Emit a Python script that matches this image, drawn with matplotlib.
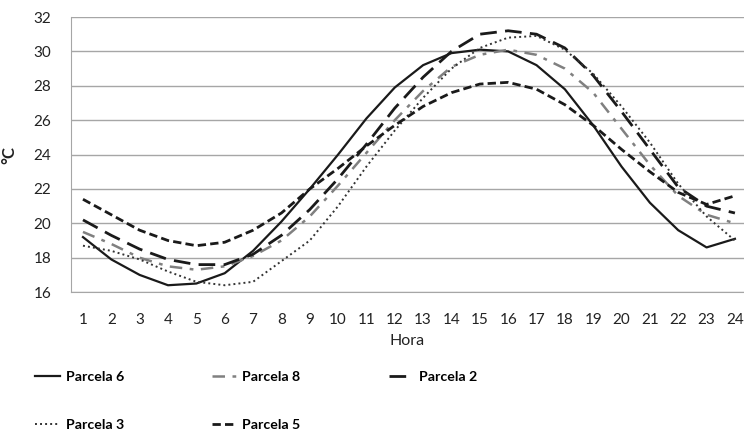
import matplotlib.pyplot as plt

plt.rcParams['font.family'] = ['Lato', 'DejaVu Sans']

hours = list(range(1, 25))

parcela6 = [19.2, 17.9, 17.0, 16.4, 16.5, 17.1, 18.4, 20.1, 22.0, 24.0, 26.1, 27.9,
            29.2, 29.9, 30.1, 30.0, 29.2, 27.8, 25.7, 23.3, 21.2, 19.6, 18.6, 19.1]
parcela8 = [19.5, 18.8, 18.0, 17.5, 17.3, 17.5, 18.1, 19.0, 20.4, 22.2, 24.1, 26.0,
            27.7, 29.1, 29.8, 30.1, 29.8, 29.0, 27.6, 25.5, 23.4, 21.6, 20.5, 20.0]
parcela2 = [20.2, 19.3, 18.5, 17.9, 17.6, 17.6, 18.2, 19.3, 20.8, 22.6, 24.6, 26.7,
            28.5, 30.0, 31.0, 31.2, 31.0, 30.2, 28.6, 26.5, 24.3, 22.1, 21.0, 20.6]
parcela3 = [18.7, 18.4, 17.9, 17.2, 16.6, 16.4, 16.6, 17.8, 19.0, 21.0, 23.3, 25.4,
            27.3, 29.0, 30.2, 30.8, 30.9, 30.1, 28.7, 26.8, 24.7, 22.3, 20.4, 19.0]
parcela5 = [21.4, 20.5, 19.6, 19.0, 18.7, 18.9, 19.6, 20.6, 22.0, 23.2, 24.5, 25.7,
            26.8, 27.6, 28.1, 28.2, 27.8, 26.9, 25.7, 24.3, 23.0, 21.8, 21.1, 21.6]

yticks = [16, 18, 20, 22, 24, 26, 28, 30, 32]

fig = plt.figure(figsize=(7.44, 4.36), dpi=100)
ax = fig.add_axes([0.0954, 0.330, 0.9046, 0.631])

l6, = ax.plot(hours, parcela6, color='#1a1a1a', lw=1.6, ls='-')
l8, = ax.plot(hours, parcela8, color='#808080', lw=1.8, dashes=(5, 3, 1.5, 3))
l2, = ax.plot(hours, parcela2, color='#1a1a1a', lw=2.0, dashes=(6, 3))
l3, = ax.plot(hours, parcela3, color='#333333', lw=1.4, dashes=(1, 1.6))
l5, = ax.plot(hours, parcela5, color='#1a1a1a', lw=2.0, dashes=(3, 1.5))

ax.set_xlim(0.577, 24.32)
ax.set_ylim(16, 32)
ax.set_xticks(hours)
ax.set_yticks(yticks)
ax.grid(axis='y', color='#a6a6a6', lw=1)
ax.set_axisbelow(True)
ax.tick_params(axis='both', length=0, labelsize=11, colors='#222222')
ax.tick_params(axis='y', pad=14)
ax.tick_params(axis='x', pad=15)
for s in ['top', 'right']:
    ax.spines[s].set_visible(False)
for s in ['left', 'bottom']:
    ax.spines[s].set_color('#a6a6a6')

ax.set_xlabel('Hora', fontsize=11.5, color='#222222', labelpad=5)
ax.set_ylabel('°C', fontsize=12, fontweight='bold', color='#222222')
ax.yaxis.set_label_coords(-0.079, 0.5)

# legend: two rows under the chart
handles = [l6, l3, l8, l5, l2]
labels = ['Parcela 6', 'Parcela 3', 'Parcela 8', 'Parcela 5', 'Parcela 2']
fig.legend(handles, labels, ncol=3, loc='upper left', bbox_to_anchor=(0.04, 0.162),
           frameon=False, prop={'weight': 'bold', 'size': 10.2}, handlelength=1.7,
           handletextpad=0.45, columnspacing=6.2, labelspacing=2.55, borderaxespad=0)

fig.savefig('out.png', dpi=100)
